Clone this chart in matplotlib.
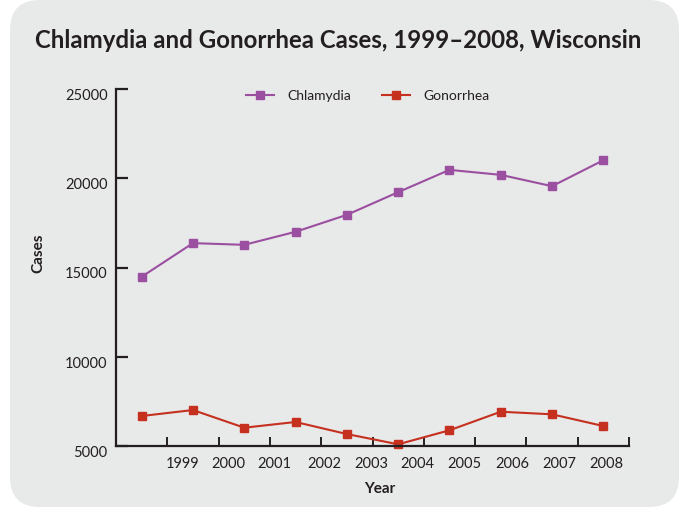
import matplotlib
matplotlib.use("Agg")
import matplotlib.pyplot as plt
from matplotlib.patches import FancyBboxPatch

# values
years = ["1999", "2000", "2001", "2002", "2003", "2004", "2005", "2006", "2007", "2008"]
chlamydia = [14480, 16365, 16270, 17000, 17950, 19220, 20470, 20190, 19555, 21010]
gonorrhea = [6680, 7015, 6025, 6345, 5670, 5095, 5880, 6920, 6775, 6120]
y_ticks = [5000, 10000, 15000, 20000, 25000]

# points sit in the middle of each tick interval, year labels drift a little
point_x = [i + 0.5 for i in range(len(years))]
tick_x = list(range(1, len(years) + 1))
label_x = [1.30, 2.19, 3.09, 4.06, 4.98, 5.87, 6.80, 7.73, 8.64, 9.55]

INK = "#231f20"
PURPLE = "#9b4fa0"
RED = "#c5301f"
PANEL = "#e8e9e9"

plt.rcParams["font.family"] = ["Lato", "DejaVu Sans"]

fig = plt.figure(figsize=(6.86, 5.08), dpi=100)
fig.patch.set_facecolor("white")

# rounded grey panel behind everything
panel = FancyBboxPatch((0.10, 0.01), 6.69, 5.07,
                       boxstyle="round,pad=0,rounding_size=0.3",
                       transform=fig.dpi_scale_trans,
                       facecolor=PANEL, edgecolor="none", zorder=-5)
fig.patches.append(panel)

ax = fig.add_axes([116 / 686, 62 / 508, 513 / 686, 357 / 508])
ax.set_facecolor("none")

ax.plot(point_x, chlamydia, color=PURPLE, lw=1.5, marker="s", ms=5.5,
        label="Chlamydia", clip_on=False)
ax.plot(point_x, gonorrhea, color=RED, lw=1.5, marker="s", ms=5.5,
        label="Gonorrhea", clip_on=False)

ax.set_xlim(0, 10)
ax.set_ylim(5000, 25000)

for s in ["top", "right"]:
    ax.spines[s].set_visible(False)
for s in ["left", "bottom"]:
    ax.spines[s].set_color(INK)
    ax.spines[s].set_linewidth(1.6)

ax.set_yticks(y_ticks)
ax.set_yticklabels([str(v) for v in y_ticks])
ax.set_xticks(tick_x)
ax.set_xticklabels([""] * len(tick_x))
ax.set_xticks(label_x, minor=True)
ax.set_xticklabels(years, minor=True)

ax.tick_params(axis="y", direction="in", length=8.5, width=1.6, color=INK,
               labelsize=10.5, labelcolor=INK, pad=6)
ax.tick_params(axis="x", which="major", direction="in", length=6.5, width=1.4,
               color=INK)
ax.tick_params(axis="x", which="minor", length=0, labelsize=10.5,
               labelcolor=INK, pad=8)
# labels in the reference sit a touch below their ticks
for lbl in ax.get_yticklabels():
    lbl.set_va("top")
    lbl.set_y(lbl.get_position()[1])
ax.yaxis.set_tick_params(labelsize=10.5)

ax.set_xlabel("Year", fontsize=11, fontweight="bold", color=INK)
ax.xaxis.set_label_coords(0.515, -0.10)
ax.set_ylabel("Cases", fontsize=11, fontweight="bold", color=INK)
ax.yaxis.set_label_coords(-0.138, 0.54)

fig.text(338 / 686, 1 - 40 / 508,
         "Chlamydia and Gonorrhea Cases, 1999\u20132008, Wisconsin",
         ha="center", va="center", fontsize=17.3, fontweight="bold", color=INK)

leg = fig.legend(loc="center", bbox_to_anchor=(368 / 686, 1 - 96 / 508),
                 ncol=2, frameon=False, fontsize=10, handlelength=2.0,
                 handletextpad=1.0, columnspacing=2.2)
for t in leg.get_texts():
    t.set_color(INK)

fig.savefig("out.png", dpi=100, facecolor=fig.get_facecolor())
